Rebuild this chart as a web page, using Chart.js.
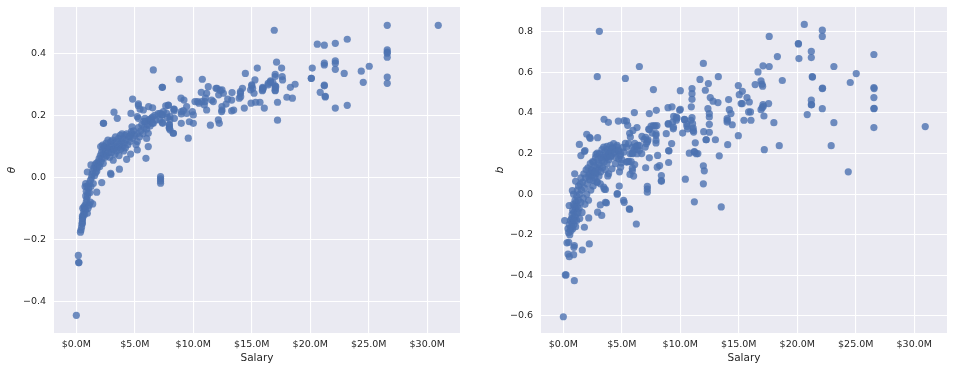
<!DOCTYPE html>
<html>
<head>
<meta charset="utf-8">
<script src="https://cdn.jsdelivr.net/npm/chart.js@4/dist/chart.umd.min.js"></script>
<style>
html,body{margin:0;padding:0;background:#ffffff;}
#wrap{position:relative;width:954px;height:371px;}
canvas{position:absolute;top:0;}
</style>
</head>
<body>
<div id="wrap">
<canvas id="c1" width="477" height="371" style="left:0px"></canvas>
<canvas id="c2" width="477" height="371" style="left:477px"></canvas>
</div>
<script>
// ---- Data ----
const xTicks = [0, 5, 10, 15, 20, 25, 30];          // salary ticks, $M
const thetaTicks = [-0.4, -0.2, 0.0, 0.2, 0.4];
const bTicks = [-0.6, -0.4, -0.2, 0.0, 0.2, 0.4, 0.6, 0.8];

// Left panel: salary ($M) vs theta
const salaryTheta = [
0,0.17,0.2,0.22,0.35,0.4,0.5,0.52,0.52,0.52,
0.55,0.65,0.45,0.5,0.55,0.6,0.65,0.7,0.75,0.8,
0.7,0.85,0.9,0.95,1.0,0.8,0.85,0.9,0.75,0.8,
1.1,1.0,1.2,1.05,1.1,1.15,1.2,1.3,1.25,1.35,
1.4,1.45,1.5,1.55,1.6,1.65,1.7,1.75,1.8,1.85,
1.9,1.95,2.0,2.05,2.1,2.15,2.2,2.25,2.3,2.35,
2.4,2.45,2.5,2.55,2.6,2.65,2.7,2.75,2.8,2.85,
2.9,2.95,3.0,3.05,3.1,3.15,3.2,3.25,3.3,3.35,
3.4,3.45,3.5,3.55,3.6,3.65,3.7,3.75,3.8,3.85,
3.9,3.95,4.0,4.05,4.1,4.15,4.2,4.25,4.3,4.4,
4.5,4.6,4.7,4.8,4.9,5.0,5.1,5.2,5.3,5.4,
5.5,5.6,5.7,5.8,5.9,6.0,6.1,6.2,6.3,6.4,
6.5,6.7,6.8,7.0,5.3,5.3,5.44,4.81,4.67,5.73,
6.18,6.52,6.58,5.87,5.78,6.35,6.52,6.58,5.21,5.3,
4.76,4.7,4.59,6.15,6.01,6.15,5.95,5.21,5.21,4.64,
4.3,3.68,3.22,3.5,2.31,2.33,7.35,7.18,7.35,7.35,
7.64,7.86,7.95,7.95,8.0,8.0,8.29,8.35,8.35,2.93,
2.96,2.17,1.74,1.4,0.94,0.94,1.25,2.08,2.25,7.2,
7.2,7.2,7.2,8.8,10.77,14.03,14.03,14.2,14.05,13.93,
13.31,13.28,12.94,12.8,12.45,12.45,12.42,12.57,12.45,12.17,
12.03,11.94,11.71,11.57,11.28,11.14,11.03,11.0,10.94,11.14,
10.68,10.71,10.48,10.37,10.14,12.14,12.22,11.46,10.0,9.66,
9.57,8.97,8.97,8.97,9.15,9.2,8.95,8.35,8.29,7.95,
7.95,8.01,7.78,7.72,7.44,7.3,7.15,7.38,7.87,8.38,
9.92,10.0,9.43,9.43,14.45,15.47,17.12,17.55,17.0,17.0,
17.6,17.63,17.05,17.0,16.6,16.4,15.98,15.9,15.27,15.0,
15.07,14.9,18.3,18.7,18.0,18.47,17.2,17.2,16.07,15.7,
15.33,14.94,14.36,13.45,13.28,16.92,17.0,17.0,17.0,20.6,
21.2,22.14,23.16,26.58,30.94,26.58,26.58,26.58,26.58,20.17,
20.09,20.09,21.2,21.2,22.14,22.14,22.14,22.9,24.36,25.04,
24.53,26.58,26.58,21.2,21.2,20.85,21.28,21.28,22.14,23.16,
15.93,15.93,15.93,16.6,16.4,16.8,15.19,14.99,7.35,12.3
];
const thetaValues = [
-0.445,-0.252,-0.275,-0.275,-0.177,-0.17,-0.148,-0.14,-0.132,-0.125,
-0.1,-0.095,-0.16,-0.15,-0.13,-0.12,-0.11,-0.1,-0.09,-0.105,
-0.12,-0.08,-0.07,-0.06,-0.05,-0.06,-0.045,-0.03,-0.03,-0.02,
-0.09,-0.1,-0.08,-0.035,-0.02,-0.05,-0.01,0.0,-0.03,0.01,
0.02,-0.02,0.03,0.005,0.04,0.015,0.045,0.02,0.03,0.05,
0.04,0.06,0.035,0.07,0.05,0.08,0.06,0.09,0.045,0.075,
0.1,0.065,0.085,0.11,0.07,0.095,0.12,0.08,0.1,0.065,
0.09,0.115,0.08,0.1,0.12,0.055,0.09,0.11,0.075,0.13,
0.1,0.085,0.115,0.095,0.125,0.07,0.105,0.135,0.09,0.115,
0.14,0.1,0.125,0.085,0.11,0.135,0.095,0.12,0.14,0.105,
0.13,0.115,0.14,0.125,0.15,0.135,0.105,0.14,0.16,0.13,
0.15,0.17,0.14,0.16,0.18,0.155,0.17,0.185,0.165,0.19,
0.175,0.2,0.185,0.205,0.237,0.231,0.22,0.252,0.206,0.217,
0.228,0.224,0.346,0.19,0.18,0.185,0.194,0.174,0.196,0.19,
0.163,0.147,0.133,0.142,0.125,0.099,0.061,0.115,0.088,0.075,
0.058,0.026,0.21,0.19,0.174,0.174,0.29,0.206,0.201,0.177,
0.23,0.232,0.158,0.169,0.185,0.196,0.142,0.219,0.214,0.013,
0.009,-0.017,-0.048,-0.086,-0.116,0.017,0.04,0.099,0.104,0.002,
-0.005,-0.012,-0.019,0.316,0.316,0.276,0.271,0.287,0.26,0.255,
0.273,0.249,0.252,0.236,0.228,0.217,0.212,0.271,0.282,0.266,
0.287,0.287,0.244,0.249,0.292,0.271,0.255,0.244,0.233,0.217,
0.274,0.244,0.239,0.244,0.244,0.185,0.174,0.168,0.174,0.179,
0.126,0.174,0.212,0.204,0.215,0.249,0.255,0.22,0.142,0.161,
0.169,0.153,0.193,0.206,0.212,0.201,0.185,0.174,0.233,0.19,
0.212,0.201,0.228,0.206,0.335,0.352,0.371,0.352,0.332,0.325,
0.325,0.314,0.292,0.279,0.308,0.303,0.287,0.279,0.314,0.298,
0.287,0.282,0.29,0.3,0.258,0.255,0.242,0.184,0.223,0.242,
0.242,0.239,0.223,0.217,0.214,0.474,0.295,0.289,0.281,0.429,
0.426,0.432,0.445,0.49,0.49,0.411,0.404,0.4,0.387,0.352,
0.319,0.319,0.368,0.362,0.375,0.368,0.348,0.335,0.342,0.358,
0.306,0.323,0.303,0.297,0.295,0.274,0.261,0.259,0.223,0.232,
0.287,0.29,0.282,0.311,0.298,0.305,0.271,0.295,0.29,0.28
];

// Right panel: salary ($M) vs b
const salaryB = [
0,0.17,0.23,0.94,0.11,0.31,0.46,0.4,0.51,0.88,
0.94,0.9,1.62,2.22,2.17,1.8,0.5,0.97,1.05,0.77,
0.88,1.37,1.5,1.85,1.8,2.0,2.25,2.3,2.93,2.9,
2.79,3.08,2.9,0.4,0.45,0.5,0.55,0.6,0.6,0.65,
0.7,0.7,0.75,0.75,0.8,0.8,0.85,0.85,0.9,0.9,
0.95,0.95,1.0,1.0,1.05,1.05,1.1,1.1,1.15,1.15,
1.2,1.2,1.25,1.3,1.3,1.35,1.4,1.4,1.45,1.5,
1.5,1.55,1.6,1.65,1.7,1.75,1.8,1.85,1.9,1.95,
2.0,2.05,2.1,2.15,2.2,2.25,2.3,2.35,2.4,2.45,
2.5,2.55,2.6,2.65,2.7,2.75,2.8,2.85,2.9,2.95,
3.0,3.05,3.1,3.15,3.2,3.25,3.3,3.35,3.4,3.5,
3.55,3.6,3.7,3.75,3.8,3.85,3.9,4.0,4.1,4.2,
4.3,4.4,4.5,4.6,4.7,4.8,4.9,5.0,5.1,5.3,
5.5,5.7,5.9,6.1,6.3,6.5,6.7,6.9,7.2,3.45,
3.73,4.02,4.3,4.59,4.16,3.87,3.59,3.3,3.02,2.59,
2.45,2.74,2.31,2.17,2.54,2.88,3.16,3.45,3.87,4.16,
4.44,4.73,3.73,4.02,4.44,4.73,4.87,5.16,5.38,5.58,
5.73,5.87,5.3,6.5,7.7,6.24,5.64,5.67,5.2,5.15,
4.6,4.62,4.78,3.28,2.93,3.68,3.6,3.16,3.6,3.5,
3.48,3.85,4.7,5.2,5.4,5.5,6.07,5.67,5.95,6.3,
6.72,7.04,7.24,7.35,7.35,7.5,7.7,7.85,8.0,7.95,
7.92,7.92,7.92,7.92,8.06,8.03,8.23,8.38,8.38,8.38,
7.18,7.18,7.18,7.04,7.35,7.0,7.1,5.95,6.3,6.07,
6.2,6.35,6.5,5.8,6.1,5.9,6.01,5.9,5.7,4.96,
5.4,5.6,4.9,8.8,8.97,8.97,8.95,9.29,9.4,9.43,
9.66,9.72,9.26,9.0,9.03,9.0,10.0,9.94,10.0,10.2,
10.37,10.57,10.63,10.77,10.43,11.0,11.0,11.0,10.94,11.0,
11.05,11.1,11.1,11.14,11.2,11.37,11.28,11.2,11.68,11.97,
12.14,12.0,12.2,12.22,11.97,12.05,11.97,12.4,12.36,12.48,
12.48,12.48,12.48,12.56,12.8,13.0,13.25,13.22,13.33,13.5,
14.0,14.02,14.0,14.13,14.19,14.33,14.44,14.05,14.96,15.04,
15.3,15.2,15.3,14.96,15.7,15.9,15.84,16.0,15.44,16.04,
16.4,16.64,16.9,16.98,17.04,17.07,16.9,17.0,17.07,17.15,
17.1,17.55,17.6,17.6,17.18,18.0,18.3,18.46,18.72,20.09,
20.1,20.14,20.6,20.85,21.2,21.2,21.28,21.3,21.2,21.2,
21.22,22.14,22.14,22.14,22.16,22.14,23.13,23.13,22.9,24.36,
24.53,25.04,26.55,26.55,26.57,26.55,26.55,26.57,26.55,30.94,
11.5,11.2,10.9,10.55,10.35,9.41,9.35,9.66,7.3,7.6
];
const bValues = [
-0.604,-0.398,-0.398,-0.426,-0.13,-0.24,-0.237,-0.295,-0.308,-0.298,
-0.253,-0.262,-0.275,-0.245,-0.117,-0.163,-0.056,0.1,0.063,0.018,
0.0,0.245,0.19,0.215,0.21,0.295,0.28,0.275,0.278,0.202,
0.196,0.802,0.579,-0.17,-0.19,-0.15,-0.2,-0.13,-0.17,-0.18,
-0.12,-0.16,-0.14,-0.1,-0.17,-0.08,-0.12,-0.05,-0.15,-0.09,
-0.06,-0.13,-0.03,-0.11,-0.07,-0.16,-0.04,-0.1,-0.01,-0.13,
-0.06,0.02,-0.09,-0.03,0.04,-0.07,0.0,-0.12,0.05,-0.04,
0.08,0.02,-0.09,0.06,-0.02,0.1,0.03,-0.05,0.08,0.12,
0.0,0.05,0.13,-0.03,0.1,0.07,0.15,0.02,0.12,0.09,
0.16,0.04,0.11,0.14,0.08,0.18,0.1,0.13,0.06,0.17,
0.12,0.09,0.2,0.14,0.11,0.18,0.22,0.13,0.19,0.16,
0.21,0.12,0.18,0.22,0.09,0.2,0.17,0.21,0.19,0.23,
0.2,0.22,0.18,0.24,0.21,0.11,0.2,0.17,0.23,0.25,
0.16,0.2,0.23,0.25,0.22,0.24,0.2,0.27,0.26,0.232,
0.235,0.24,0.249,0.232,0.224,0.199,0.183,0.166,0.15,0.158,
0.117,0.109,0.1,0.084,0.067,0.059,0.051,0.035,0.1,0.125,
0.15,0.174,0.15,0.183,0.207,0.216,0.191,0.207,0.232,0.249,
0.281,0.199,0.57,0.629,0.515,-0.147,-0.072,-0.075,-0.04,-0.03,
0.0,0.003,0.04,-0.105,-0.089,-0.043,-0.04,-0.053,0.023,0.025,
0.369,0.354,0.36,0.362,0.36,0.339,0.402,0.3,0.314,0.328,
0.285,0.28,0.268,0.397,0.319,0.335,0.338,0.335,0.338,0.413,
0.298,0.29,0.265,0.252,0.191,0.133,0.141,0.092,0.067,0.063,
0.038,0.025,0.01,0.13,0.179,0.232,0.249,0.202,0.199,0.22,
0.235,0.24,0.215,0.16,0.146,0.128,0.089,0.115,0.097,0.153,
0.158,0.161,0.133,0.298,0.347,0.345,0.426,0.43,0.322,0.383,
0.364,0.375,0.249,0.215,0.212,0.156,0.51,0.413,0.418,0.301,
0.367,0.334,0.321,0.202,0.074,0.52,0.495,0.467,0.43,0.377,
0.347,0.326,0.314,0.306,0.207,0.199,0.253,-0.038,0.565,0.644,
0.512,0.308,0.268,0.268,0.14,0.115,0.051,0.545,0.421,0.397,
0.38,0.344,0.305,0.476,0.458,0.268,0.579,0.451,0.189,-0.063,
0.372,0.364,0.355,0.466,0.416,0.397,0.342,0.244,0.535,0.49,
0.507,0.446,0.446,0.288,0.476,0.454,0.405,0.405,0.364,0.364,
0.54,0.602,0.558,0.542,0.532,0.632,0.416,0.426,0.441,0.385,
0.433,0.446,0.777,0.629,0.219,0.352,0.678,0.239,0.56,0.742,
0.74,0.668,0.836,0.392,0.703,0.673,0.579,0.577,0.463,0.441,
0.44,0.808,0.777,0.52,0.522,0.421,0.629,0.352,0.239,0.11,
0.55,0.594,0.688,0.525,0.52,0.476,0.421,0.423,0.328,0.333,
0.2,0.21,0.364,0.347,0.368,0.33,0.355,0.38,0.32,0.3
];

// ---- Styling ----
const TEXT = '#262626';
const FONT = 'DejaVu Sans';
const PANEL_BG = '#EAEAF2';
const POINT = 'rgba(76,114,176,0.8)';

const bgPlugin = {
  id: 'panelBg',
  beforeDraw(chart) {
    const a = chart.chartArea, ctx = chart.ctx;
    ctx.save();
    ctx.fillStyle = PANEL_BG;
    ctx.fillRect(a.left, a.top, a.right - a.left, a.bottom - a.top);
    ctx.restore();
  }
};

function fmtY(v) {
  const s = Math.abs(v).toFixed(1);
  return v < -1e-9 ? '\u2212' + s : s;
}

function makeChart(id, xs, ys, yMin, yMax, yTicks, yTitle, axisW, padRight, yTitlePad) {
  const pts = xs.map((x, i) => ({x: x, y: ys[i]}));
  return new Chart(document.getElementById(id), {
    type: 'scatter',
    data: {datasets: [{
      data: pts,
      backgroundColor: POINT,
      borderWidth: 0,
      pointRadius: 3.6,
      pointHoverRadius: 3.6
    }]},
    options: {
      responsive: false,
      animation: false,
      devicePixelRatio: 1,
      layout: {autoPadding: false, padding: {left: 0, right: padRight, top: 7, bottom: 0}},
      plugins: {legend: {display: false}, tooltip: {enabled: false}},
      scales: {
        x: {
          type: 'linear', min: -1.91, max: 32.8,
          afterBuildTicks: s => { s.ticks = xTicks.map(v => ({value: v})); },
          afterFit: s => { s.height = 38; s.paddingLeft = 0; s.paddingRight = 0; },
          grid: {color: '#ffffff', lineWidth: 1.1, drawTicks: false},
          border: {display: false},
          ticks: {
            color: TEXT, padding: 6, maxRotation: 0,
            font: {family: FONT, size: 9.5},
            callback: v => '$' + Number(v).toFixed(1) + 'M'
          },
          title: {
            display: true, text: 'Salary', color: TEXT,
            font: {family: FONT, size: 10.5},
            padding: {top: 0, bottom: 6.7}
          }
        },
        y: {
          type: 'linear', min: yMin, max: yMax,
          afterBuildTicks: s => { s.ticks = yTicks.map(v => ({value: v})); },
          afterFit: s => { s.width = axisW; s.paddingTop = 0; s.paddingBottom = 0; },
          grid: {color: '#ffffff', lineWidth: 1.1, drawTicks: false},
          border: {display: false},
          ticks: {
            color: TEXT, padding: 8,
            font: {family: FONT, size: 9.5},
            callback: v => fmtY(v)
          },
          title: {
            display: true, text: yTitle, color: TEXT,
            font: {family: FONT, size: 10.5, style: 'italic'},
            padding: {top: yTitlePad, bottom: 0}
          }
        }
      }
    },
    plugins: [bgPlugin]
  });
}

makeChart('c1', salaryTheta, thetaValues, -0.502, 0.549, thetaTicks, '\u03b8', 54, 17, 6.4);
makeChart('c2', salaryB, bValues, -0.684, 0.922, bTicks, 'b', 64, 7, 16.7);
</script>
</body>
</html>
